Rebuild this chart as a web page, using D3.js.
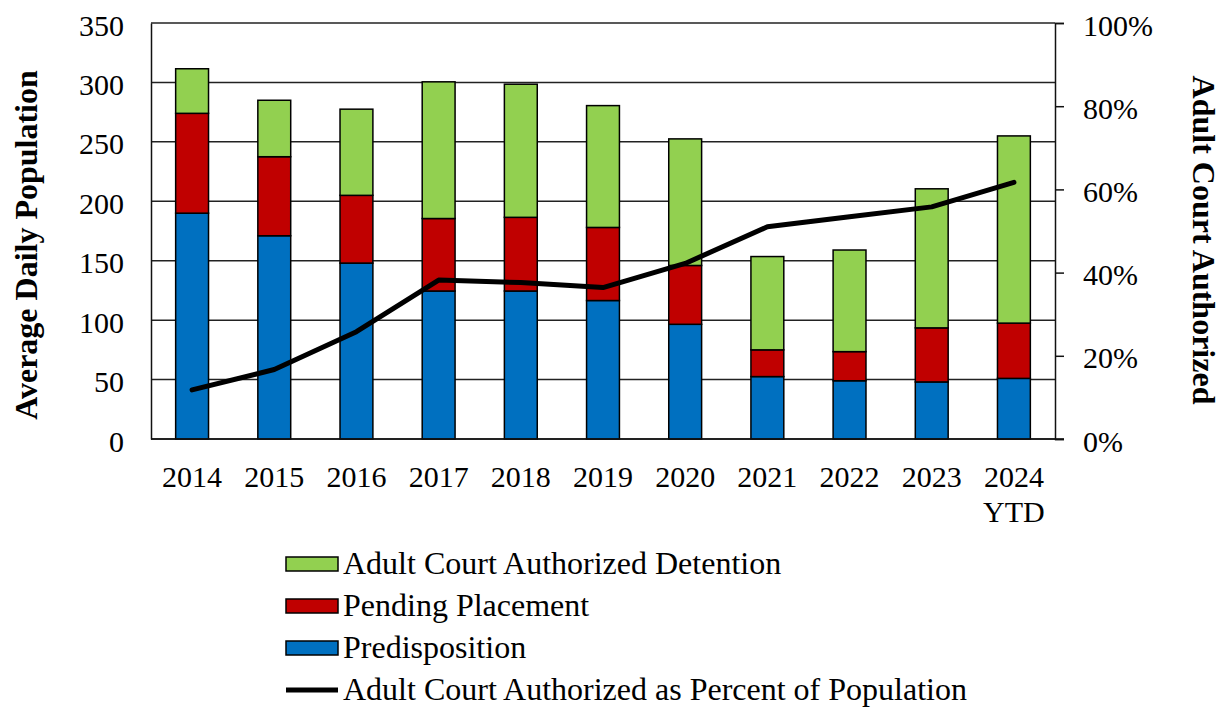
<!DOCTYPE html>
<html>
<head>
<meta charset="utf-8">
<script src="https://cdn.jsdelivr.net/npm/d3@7"></script>
<style>
  body { margin: 0; background: #fff; }
  text { font-family: "Liberation Serif", "Times New Roman", serif; }
</style>
</head>
<body>
<svg id="chart" width="1221" height="707"></svg>
<script>
const years = ["2014", "2015", "2016", "2017", "2018", "2019", "2020", "2021", "2022", "2023", "2024 YTD"]
const predisposition = [190, 171, 148, 124.5, 124.5, 116.5, 96.5, 52.5, 49, 48, 51]
const pendingPlacement = [84, 66.5, 57, 61, 62, 61.5, 49.5, 22.5, 24.5, 45.5, 46.5]
const adultCourt = [37.5, 47.5, 72.5, 115, 112, 102.5, 106.5, 78.5, 85.5, 117, 157.5]
const percentAdult = [0.118, 0.167, 0.258, 0.382, 0.376, 0.364, 0.422, 0.51, 0.534, 0.558, 0.617]
const leftTicks = [0, 50, 100, 150, 200, 250, 300, 350]
const rightTicks = [0, 0.2, 0.4, 0.6, 0.8, 1]

const colors = { predisposition: "#0070C0", pending: "#C00000", adult: "#92D050" }

const svg = d3.select("#chart")
const margin = { top: 23, right: 166, bottom: 268, left: 151 }
const width = 1221 - margin.left - margin.right
const height = 707 - margin.top - margin.bottom

const g = svg.append("g").attr("transform", `translate(${margin.left},${margin.top})`)

const x = d3.scaleBand().domain(years).range([0, width]).paddingInner(0.6).paddingOuter(0.3)
const y = d3.scaleLinear().domain([0, 350]).range([height, 0])
const y2 = d3.scaleLinear().domain([0, 1]).range([height, 0])

// gridlines
g.append("g")
    .selectAll("line")
    .data(leftTicks)
    .join("line")
    .attr("x1", 0).attr("x2", width)
    .attr("y1", d => y(d)).attr("y2", d => y(d))
    .attr("stroke", "#222").attr("stroke-width", 1.5)

// left axis labels
const leftAxis = g.append("g")
    .call(d3.axisLeft(y).tickValues(leftTicks).tickSize(0).tickPadding(27))
leftAxis.select(".domain").attr("stroke", "#111").attr("stroke-width", 1.5)
leftAxis.selectAll("text").attr("font-size", 30).attr("fill", "#000")
    .attr("font-family", "Liberation Serif").attr("dy", "0.4em")

// right axis
const rightAxis = g.append("g")
    .attr("transform", `translate(${width},0)`)
    .call(d3.axisRight(y2).tickValues(rightTicks).tickSize(9).tickPadding(19).tickFormat(d3.format(".0%")))
rightAxis.select(".domain").attr("stroke", "#111").attr("stroke-width", 1.5)
rightAxis.selectAll("line").attr("stroke", "#111").attr("stroke-width", 1.5)
rightAxis.selectAll("text").attr("font-size", 30).attr("fill", "#000")
    .attr("font-family", "Liberation Serif").attr("dy", "0.4em")

// stacked bars
const rows = years.map((yr, i) => ({
    year: yr,
    predisposition: predisposition[i],
    pending: pendingPlacement[i],
    adult: adultCourt[i]
}))
const stack = d3.stack().keys(["predisposition", "pending", "adult"])
const series = stack(rows)

g.append("g")
    .selectAll("g")
    .data(series)
    .join("g")
    .attr("fill", d => colors[d.key])
    .selectAll("rect")
    .data(d => d)
    .join("rect")
    .attr("x", d => x(d.data.year))
    .attr("width", x.bandwidth())
    .attr("y", d => y(d[1]))
    .attr("height", d => y(d[0]) - y(d[1]))
    .attr("stroke", "#000")
    .attr("stroke-width", 1.5)

// bottom frame line
g.append("line")
    .attr("x1", 0).attr("x2", width + 9)
    .attr("y1", height).attr("y2", height)
    .attr("stroke", "#111").attr("stroke-width", 1.5)

// x labels
const xLabels = g.append("g")
    .selectAll("text")
    .data(years)
    .join("text")
    .attr("x", d => x(d) + x.bandwidth() / 2)
    .attr("y", height + 48)
    .attr("text-anchor", "middle")
    .attr("font-size", 30)
xLabels.each(function (d) {
    const parts = d.split(" ")
    d3.select(this).selectAll("tspan")
        .data(parts)
        .join("tspan")
        .attr("x", x(d) + x.bandwidth() / 2)
        .attr("dy", (p, i) => i === 0 ? 0 : 35)
        .text(p => p)
})

// percent line
const line = d3.line()
    .x((d, i) => x(years[i]) + x.bandwidth() / 2)
    .y(d => y2(d))
g.append("path")
    .datum(percentAdult)
    .attr("fill", "none")
    .attr("stroke", "#000")
    .attr("stroke-width", 5)
    .attr("stroke-linecap", "round")
    .attr("stroke-linejoin", "round")
    .attr("d", line)

// axis titles
svg.append("text")
    .attr("transform", "translate(37,245) rotate(-90)")
    .attr("text-anchor", "middle")
    .attr("font-size", 32)
    .attr("font-weight", "bold")
    .text("Average Daily Population")

svg.append("text")
    .attr("transform", "translate(1193,240) rotate(90)")
    .attr("text-anchor", "middle")
    .attr("font-size", 32)
    .attr("font-weight", "bold")
    .text("Adult Court Authorized")

// legend
const legendItems = [
    { label: "Adult Court Authorized Detention", type: "rect", color: colors.adult },
    { label: "Pending Placement", type: "rect", color: colors.pending },
    { label: "Predisposition", type: "rect", color: colors.predisposition },
    { label: "Adult Court Authorized as Percent of Population", type: "line", color: "#000" }
]
const legend = svg.append("g").attr("transform", "translate(286,564)")
const li = legend.selectAll("g")
    .data(legendItems)
    .join("g")
    .attr("transform", (d, i) => `translate(0,${i * 42})`)
li.filter(d => d.type === "rect").append("rect")
    .attr("x", 0).attr("y", -7).attr("width", 52).attr("height", 14)
    .attr("fill", d => d.color).attr("stroke", "#000").attr("stroke-width", 1.5)
li.filter(d => d.type === "line").append("line")
    .attr("x1", 0).attr("x2", 52).attr("y1", 0).attr("y2", 0)
    .attr("stroke", "#000").attr("stroke-width", 5)
li.append("text")
    .attr("x", 57).attr("y", 10)
    .attr("font-size", 32)
    .text(d => d.label)
</script>
</body>
</html>
